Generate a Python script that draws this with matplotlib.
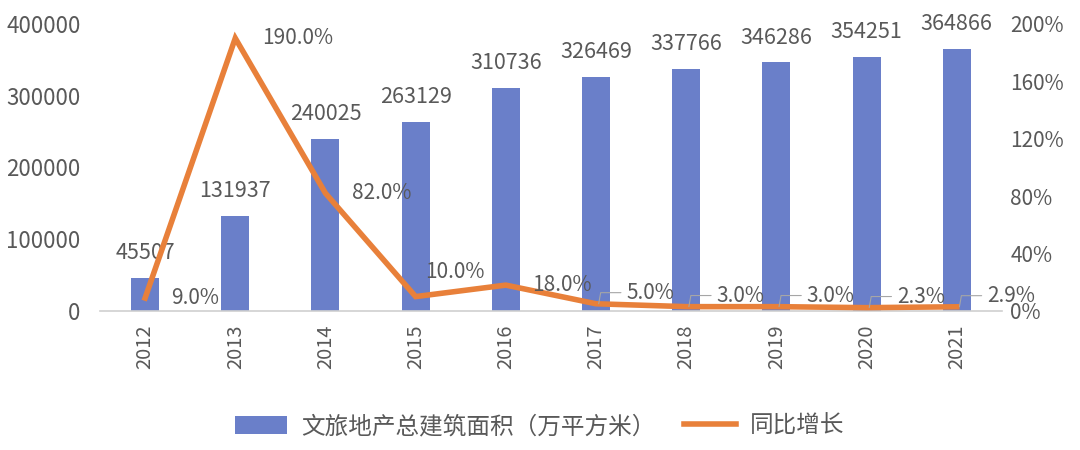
import matplotlib.pyplot as plt
import numpy as np

plt.rcParams['font.family'] = ['Noto Sans CJK SC', 'DejaVu Sans']
plt.rcParams['font.weight'] = 'light'

years = ['2012', '2013', '2014', '2015', '2016', '2017', '2018', '2019', '2020', '2021']
area = [45507, 131937, 240025, 263129, 310736, 326469, 337766, 346286, 354251, 364866]
growth = [9.0, 190.0, 82.0, 10.0, 18.0, 5.0, 3.0, 3.0, 2.3, 2.9]
growth_labels = ['9.0%', '190.0%', '82.0%', '10.0%', '18.0%', '5.0%', '3.0%', '3.0%', '2.3%', '2.9%']

bar_color = '#6a7fc9'
line_color = '#e8803a'
text_color = '#595959'

fig = plt.figure(figsize=(10.8, 4.5), dpi=100)
ax = fig.add_axes([0.0926, 0.309, 0.835, 0.638])
ax2 = ax.twinx()

x = np.arange(len(years))
bars = ax.bar(x, area, width=0.31, color=bar_color, label='文旅地产总建筑面积（万平方米）', zorder=2)
for xi, v in zip(x, area):
    ax.annotate(str(v), (xi, v), xytext=(0, 10), textcoords='offset points',
                ha='center', va='bottom', fontsize=15.5, color=text_color)

ax.set_xlim(-0.5, len(years) - 0.5)
ax.set_ylim(0, 400000)
ax.set_yticks(np.arange(0, 400001, 100000))
ax.set_xticks(x)
ax.set_xticklabels(years, rotation=90)
ax.tick_params(axis='y', length=0, labelsize=16, labelcolor=text_color, pad=14)
ax.tick_params(axis='x', length=0, labelsize=14.5, labelcolor=text_color, pad=10)
for s in ['top', 'right', 'left']:
    ax.spines[s].set_visible(False)
ax.spines['bottom'].set_color('#d0d0d0')
ax.spines['bottom'].set_linewidth(1.2)

line, = ax2.plot(x, growth, color=line_color, lw=4, label='同比增长', zorder=3,
                 solid_joinstyle='miter')
ax2.set_ylim(0, 200)
ax2.set_yticks(np.arange(0, 201, 40))
ax2.set_yticklabels([f'{t}%' for t in range(0, 201, 40)])
ax2.tick_params(axis='y', length=0, labelsize=15, labelcolor=text_color, pad=6)
for s in ['top', 'right', 'left', 'bottom']:
    ax2.spines[s].set_visible(False)

for i, (xi, v, lab) in enumerate(zip(x, growth, growth_labels)):
    if i >= 5:
        ax2.annotate(lab, (xi + 0.03, v), xytext=(20, 8), textcoords='offset points',
                     ha='left', va='center', fontsize=15, color=text_color,
                     arrowprops=dict(arrowstyle='-', color='#a6a6a6', lw=0.8,
                                     connectionstyle='angle,angleA=0,angleB=80,rad=0',
                                     shrinkA=2, shrinkB=0))
    elif i == 3:
        ax2.annotate(lab, (xi, v), xytext=(7, 18), textcoords='offset points',
                     ha='left', va='center', fontsize=15, color=text_color)
    else:
        ax2.annotate(lab, (xi, v), xytext=(19, 0), textcoords='offset points',
                     ha='left', va='center', fontsize=15, color=text_color)

fig.legend(handles=[bars, line], loc='center', bbox_to_anchor=(0.5, 0.052), ncol=2,
           frameon=False, fontsize=17, labelcolor=text_color, handlelength=2.2,
           handleheight=0.8, columnspacing=1.2, handletextpad=0.6)

fig.savefig('out.png', dpi=100)
